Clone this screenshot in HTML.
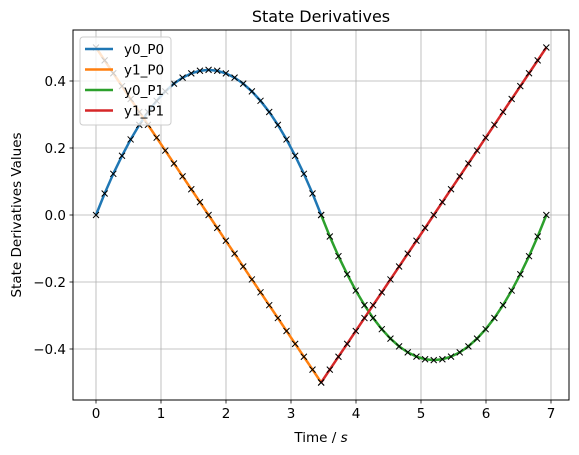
<!DOCTYPE html>
<html><head><meta charset="utf-8"><style>
body{margin:0;background:#fff}
svg{display:block;font-family:"DejaVu Sans","Liberation Sans",sans-serif}
</style></head><body>
<svg id="c" width="579" height="455"></svg>
<script>
const timeP0=[0,0.133,0.266,0.400,0.533,0.666,0.799,0.933,1.066,1.199,1.332,1.466,1.599,1.732,1.865,1.998,2.132,2.265,2.398,2.531,2.665,2.798,2.931,3.064,3.198,3.331,3.464];
const timeP1=[3.464,3.597,3.730,3.864,3.997,4.130,4.263,4.397,4.530,4.663,4.796,4.930,5.063,5.196,5.329,5.462,5.596,5.729,5.862,5.995,6.129,6.262,6.395,6.528,6.662,6.795,6.928];
const y0P0=[0,0.0641,0.1230,0.1768,0.2255,0.2690,0.3075,0.3408,0.3690,0.3921,0.4100,0.4228,0.4305,0.4331,0.4305,0.4228,0.4100,0.3921,0.3690,0.3408,0.3075,0.2690,0.2255,0.1768,0.1230,0.0641,0];
const y1P0=[0.5,0.4615,0.4231,0.3846,0.3462,0.3077,0.2692,0.2308,0.1923,0.1538,0.1154,0.0769,0.0385,0,-0.0385,-0.0769,-0.1154,-0.1538,-0.1923,-0.2308,-0.2692,-0.3077,-0.3462,-0.3846,-0.4231,-0.4615,-0.5];
const y0P1=[0,-0.0641,-0.1230,-0.1768,-0.2255,-0.2690,-0.3075,-0.3408,-0.3690,-0.3921,-0.4100,-0.4228,-0.4305,-0.4331,-0.4305,-0.4228,-0.4100,-0.3921,-0.3690,-0.3408,-0.3075,-0.2690,-0.2255,-0.1768,-0.1230,-0.0641,0];
const y1P1=[-0.5,-0.4615,-0.4231,-0.3846,-0.3462,-0.3077,-0.2692,-0.2308,-0.1923,-0.1538,-0.1154,-0.0769,-0.0385,0,0.0385,0.0769,0.1154,0.1538,0.1923,0.2308,0.2692,0.3077,0.3462,0.3846,0.4231,0.4615,0.5];
const xTicks=[0,1,2,3,4,5,6,7];
const yTicks=[-0.4,-0.2,0.0,0.2,0.4];
const seriesNames=["y0_P0","y1_P0","y0_P1","y1_P1"];
const colors=["#1f77b4","#ff7f0e","#2ca02c","#d62728"];

const L=73,R=569,T=30,B=400;
const X=v=>96+v*65;
const Y=v=>215-v*335;
const svg=document.getElementById('c');
const NS="http://www.w3.org/2000/svg";
function mk(tag,attrs,parent){const e=document.createElementNS(NS,tag);for(const k in attrs)e.setAttribute(k,attrs[k]);(parent||svg).appendChild(e);return e;}

// grid
xTicks.forEach(t=>{
  const g=mk('line',{x1:X(t),x2:X(t),y1:T,y2:B,stroke:'#b0b0b0','stroke-width':0.8});
  
  
  const tk=mk('line',{x1:X(t),x2:X(t),y1:B,y2:B+3.5,stroke:'#000','stroke-width':0.8});
  
  
  const tx=mk('text',{x:X(t),y:B+18,'text-anchor':'middle','font-size':13.5,fill:'#000'});
  tx.textContent=t;
  
  
});
yTicks.forEach(t=>{
  const g=mk('line',{x1:L,x2:R,y1:Y(t),y2:Y(t),stroke:'#b0b0b0','stroke-width':0.8});
  
  
  const tk=mk('line',{x1:L-3.5,x2:L,y1:Y(t),y2:Y(t),stroke:'#000','stroke-width':0.8});
  
  
  const tx=mk('text',{x:L-7,y:Y(t)+5,'text-anchor':'end','font-size':13.5,fill:'#000'});
  tx.textContent=t.toFixed(1).replace('-','\u2212');
  
  
});

const data=[[timeP0,y0P0],[timeP0,y1P0],[timeP1,y0P1],[timeP1,y1P1]];
data.forEach((d,i)=>{
  const pts=d[0].map((t,j)=>X(t)+','+Y(d[1][j])).join(' ');
  const pl=mk('polyline',{points:pts,fill:'none',stroke:colors[i],'stroke-width':2.5});
  
  
});
data.forEach((d,i)=>{
  d[0].forEach((t,j)=>{
    const cx=X(t),cy=Y(d[1][j]);
    const m=mk('path',{d:`M${cx-3},${cy-3}L${cx+3},${cy+3}M${cx-3},${cy+3}L${cx+3},${cy-3}`,stroke:'#000','stroke-width':1});
    
    
  });
});

const frame=mk('rect',{x:L,y:T,width:R-L,height:B-T,fill:'none',stroke:'#000','stroke-width':1});



// legend
const lg=mk('g',{});


mk('rect',{x:80,y:37,width:91,height:88,rx:3,fill:'#fff','fill-opacity':0.8,stroke:'#ccc','stroke-width':1},lg);
seriesNames.forEach((n,i)=>{
  const yy=49+i*20.5;
  const ln=mk('line',{x1:85,x2:113,y1:yy,y2:yy,stroke:colors[i],'stroke-width':2.5},lg);
  
  
  const tx=mk('text',{x:124,y:yy+5,'font-size':13.5,fill:'#000'},lg);
  tx.textContent=n;
  
  
});

const title=mk('text',{x:(L+R)/2,y:22,'text-anchor':'middle','font-size':16,fill:'#000'});
title.textContent='State Derivatives';


const xl=mk('text',{x:(L+R)/2,y:442,'text-anchor':'middle','font-size':13.5,fill:'#000'});
xl.innerHTML='Time / <tspan font-style="italic">s</tspan>';


const yl=mk('text',{x:21,y:(T+B)/2,'text-anchor':'middle','font-size':13.5,fill:'#000',transform:`rotate(-90 21 ${(T+B)/2})`});
yl.textContent='State Derivatives Values';


</script>
</body></html>
